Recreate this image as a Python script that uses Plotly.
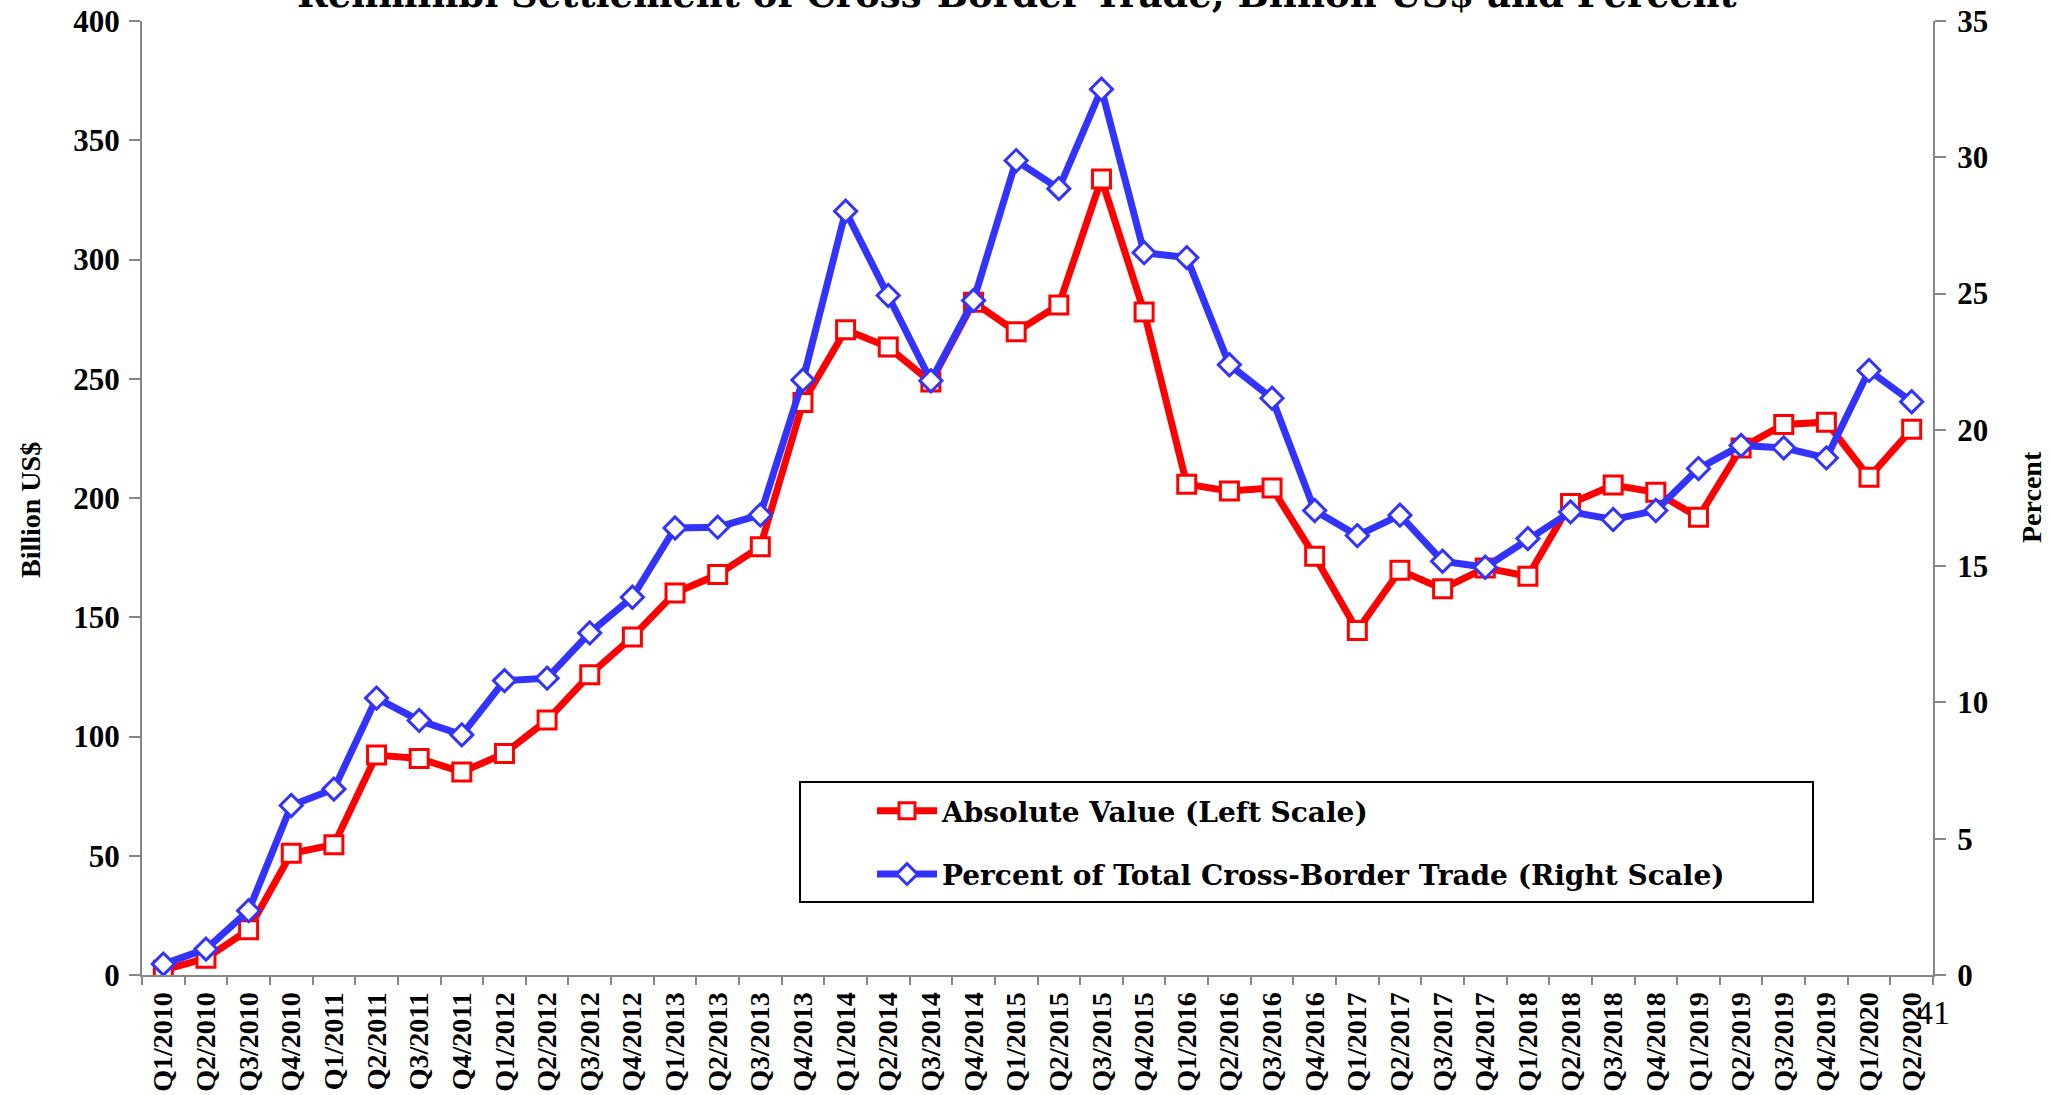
import plotly.graph_objects as go

quarters = [
    "Q1/2010", "Q2/2010", "Q3/2010", "Q4/2010",
    "Q1/2011", "Q2/2011", "Q3/2011", "Q4/2011",
    "Q1/2012", "Q2/2012", "Q3/2012", "Q4/2012",
    "Q1/2013", "Q2/2013", "Q3/2013", "Q4/2013",
    "Q1/2014", "Q2/2014", "Q3/2014", "Q4/2014",
    "Q1/2015", "Q2/2015", "Q3/2015", "Q4/2015",
    "Q1/2016", "Q2/2016", "Q3/2016", "Q4/2016",
    "Q1/2017", "Q2/2017", "Q3/2017", "Q4/2017",
    "Q1/2018", "Q2/2018", "Q3/2018", "Q4/2018",
    "Q1/2019", "Q2/2019", "Q3/2019", "Q4/2019",
    "Q1/2020", "Q2/2020",
]

absolute_bn_usd = [
    2.0, 7.0, 19.0, 51.0, 54.6, 92.2, 90.8, 85.1, 92.9, 106.9,
    125.9, 141.7, 160.2, 167.9, 179.6, 240.0, 270.5, 263.3, 248.6, 282.1,
    269.7, 280.9, 333.8, 278.0, 205.8, 202.9, 204.2, 175.6, 144.4, 169.7,
    161.9, 170.7, 167.2, 197.7, 205.4, 202.4, 191.9, 221.0, 230.8, 231.8,
    208.7, 228.8,
]

percent_of_total = [
    0.40, 0.95, 2.36, 6.22, 6.82, 10.16, 9.34, 8.81, 10.80, 10.89,
    12.55, 13.86, 16.40, 16.43, 16.88, 21.83, 28.02, 24.93, 21.80, 24.75,
    29.88, 28.85, 32.50, 26.50, 26.32, 22.39, 21.16, 17.04, 16.12, 16.87,
    15.18, 14.96, 16.01, 16.99, 16.71, 17.04, 18.58, 19.43, 19.34, 18.97,
    22.18, 21.03,
]

left_ticks = [0, 50, 100, 150, 200, 250, 300, 350, 400]
right_ticks = [0, 5, 10, 15, 20, 25, 30, 35]

title_text = "Renminbi Settlement of Cross-Border Trade, Billion US$ and Percent"
name_abs = "Absolute Value (Left Scale)"
name_pct = "Percent of Total Cross-Border Trade (Right Scale)"

W, H = 2051, 1095
L, R, T, B = 142, 118, 21, 120
PW, PH = W - L - R, H - T - B


def px_x(x):
    return (x - L) / PW


def px_y(y):
    return (H - B - y) / PH


RED = "#FF0000"
BLUE = "#3333FF"
AXIS = "#868686"
WIDE = "DejaVu Serif"
NARROW = "Liberation Serif"

fig = go.Figure()
fig.add_trace(go.Scatter(
    x=quarters, y=absolute_bn_usd, name=name_abs, mode="lines+markers",
    legendgroup="a",
    line=dict(color=RED, width=7),
    marker=dict(symbol="square", size=18, color="white",
                line=dict(color=RED, width=3)),
    yaxis="y",
))
fig.add_trace(go.Scatter(
    x=quarters, y=percent_of_total, name=name_pct, mode="lines+markers",
    legendgroup="b",
    line=dict(color=BLUE, width=7),
    marker=dict(symbol="diamond", size=17, color="white",
                line=dict(color=BLUE, width=3)),
    yaxis="y2",
))

tick_font = dict(family=NARROW, size=31, color="black", weight="bold")

fig.update_layout(
    width=W, height=H,
    margin=dict(l=L, r=R, t=T, b=B, autoexpand=False),
    paper_bgcolor="white", plot_bgcolor="white",
    showlegend=True,
    legend=dict(
        x=px_x(872), y=px_y(786), xanchor="left", yanchor="top",
        bgcolor="rgba(0,0,0,0)", borderwidth=0,
        font=dict(family=WIDE, size=28, color="black", weight="bold"),
        itemwidth=60, traceorder="grouped", tracegroupgap=24,
        itemclick=False, itemdoubleclick=False,
    ),
    xaxis=dict(
        type="category", range=[-0.5, len(quarters) - 0.5],
        tickson="boundaries", ticks="outside", ticklen=8, tickwidth=2,
        tickcolor=AXIS, showline=True, linecolor=AXIS, linewidth=2,
        showgrid=False, zeroline=False, tickangle=-90,
        ticklabelstandoff=4,
        tickfont=dict(family=NARROW, size=28, color="black", weight="bold"),
    ),
    yaxis=dict(
        range=[0, 400], tickmode="array", tickvals=left_ticks,
        ticks="outside", ticklen=11, tickwidth=2, tickcolor=AXIS,
        showline=True, linecolor=AXIS, linewidth=2,
        showgrid=False, zeroline=False, ticklabelstandoff=3,
        tickfont=tick_font,
    ),
    yaxis2=dict(
        range=[0, 35], tickmode="array", tickvals=right_ticks,
        overlaying="y", side="right", anchor="x",
        ticks="outside", ticklen=11, tickwidth=2, tickcolor=AXIS,
        showline=True, linecolor=AXIS, linewidth=2,
        showgrid=False, zeroline=False, ticklabelstandoff=5,
        tickfont=tick_font,
    ),
    shapes=[dict(
        type="rect", xref="paper", yref="paper",
        x0=px_x(800), x1=px_x(1813), y0=px_y(902), y1=px_y(782),
        line=dict(color="black", width=2), fillcolor="white", layer="below",
    )],
    annotations=[
        dict(text=title_text, xref="paper", yref="paper",
             x=px_x(1017), y=1, xanchor="center", yanchor="middle",
             yshift=27, showarrow=False,
             font=dict(family=WIDE, size=37, color="black", weight="bold")),
        dict(text="Billion US$", xref="paper", yref="paper",
             x=px_x(30), y=px_y(510), textangle=-90, showarrow=False,
             xanchor="center", yanchor="middle",
             font=dict(family=NARROW, size=28, color="black", weight="bold")),
        dict(text="Percent", xref="paper", yref="paper",
             x=px_x(2031), y=px_y(497), textangle=-90, showarrow=False,
             xanchor="center", yanchor="middle",
             font=dict(family=NARROW, size=28, color="black", weight="bold")),
        dict(text="41", xref="paper", yref="paper",
             x=px_x(1933), y=px_y(1012), showarrow=False,
             xanchor="center", yanchor="middle",
             font=dict(family=NARROW, size=34, color="black")),
    ],
)

fig.write_html(
    "out.html",
    config={"displayModeBar": False},
    post_script="document.body.style.margin='0px';"
                "document.body.style.overflow='hidden';",
)
